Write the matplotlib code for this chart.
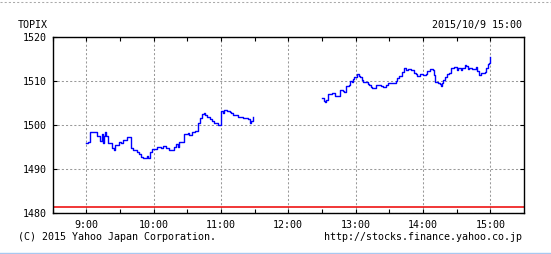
import matplotlib
matplotlib.use("Agg")
import matplotlib.pyplot as plt
from matplotlib.lines import Line2D

# TOPIX intraday 2015/10/9
am_times = ["09:00", "09:02", "09:03", "09:07", "09:10", "09:12", "09:14", "09:15", "09:16",
            "09:17", "09:18", "09:19", "09:21", "09:23", "09:25", "09:26", "09:29", "09:31",
            "09:33", "09:36", "09:39", "09:40", "09:42", "09:45", "09:47", "09:49", "09:51",
            "09:54", "09:55", "09:57", "09:59", "10:01", "10:03", "10:05", "10:07", "10:08",
            "10:11", "10:14", "10:16", "10:18", "10:20", "10:22", "10:23", "10:27", "10:31",
            "10:32", "10:34", "10:37", "10:40", "10:41", "10:43", "10:45", "10:46", "10:48",
            "10:50", "10:52", "10:54", "10:56", "10:57", "10:59", "11:00", "11:02", "11:03",
            "11:05", "11:08", "11:09", "11:11", "11:14", "11:15", "11:18", "11:20", "11:23",
            "11:24", "11:26", "11:27", "11:29"]
am_values = [1495.8, 1496.1, 1498.3, 1498.5, 1497.5, 1496.4, 1497.9, 1496.0, 1497.6,
             1498.5, 1497.4, 1495.8, 1495.9, 1494.7, 1494.3, 1495.5, 1496.2, 1495.9,
             1496.7, 1497.3, 1497.3, 1494.7, 1494.4, 1493.9, 1493.4, 1492.8, 1492.6,
             1492.9, 1492.4, 1493.9, 1494.5, 1494.5, 1495.1, 1495.1, 1494.7, 1495.3,
             1494.7, 1494.3, 1494.4, 1495.1, 1495.6, 1494.9, 1496.2, 1497.9, 1498.1,
             1497.7, 1498.5, 1498.6, 1500.4, 1501.5, 1502.6, 1502.8, 1502.2, 1501.9,
             1501.3, 1501.0, 1500.5, 1500.5, 1500.0, 1500.0, 1503.2, 1502.8, 1503.3,
             1503.2, 1502.9, 1502.8, 1502.3, 1502.3, 1501.9, 1501.9, 1501.5, 1501.5,
             1501.3, 1500.4, 1500.8, 1501.8]

pm_times = ["12:30", "12:32", "12:33", "12:34", "12:35", "12:38", "12:39", "12:41", "12:42",
            "12:45", "12:46", "12:48", "12:49", "12:50", "12:51", "12:54", "12:55", "12:57",
            "12:58", "12:59", "13:01", "13:03", "13:04", "13:06", "13:07", "13:09", "13:11",
            "13:12", "13:14", "13:15", "13:17", "13:18", "13:21", "13:23", "13:24", "13:27",
            "13:29", "13:36", "13:37", "13:39", "13:41", "13:43", "13:45", "13:47", "13:49",
            "13:51", "13:52", "13:54", "13:55", "13:57", "13:59", "14:00", "14:03", "14:04",
            "14:06", "14:09", "14:10", "14:11", "14:13", "14:15", "14:16", "14:17", "14:18",
            "14:20", "14:21", "14:23", "14:25", "14:28", "14:30", "14:31", "14:32", "14:34",
            "14:35", "14:37", "14:38", "14:40", "14:41", "14:44", "14:47", "14:48", "14:50",
            "14:52", "14:53", "14:55", "14:56", "14:58", "14:59", "15:00"]
pm_values = [1506.1, 1505.5, 1505.2, 1505.6, 1507.0, 1507.0, 1507.3, 1507.2, 1506.6,
             1506.6, 1508.0, 1508.0, 1507.8, 1507.6, 1508.9, 1509.1, 1510.0, 1509.8,
             1510.4, 1510.8, 1511.5, 1511.1, 1510.8, 1510.3, 1509.8, 1509.8, 1509.4,
             1509.1, 1508.7, 1508.3, 1508.5, 1509.1, 1509.2, 1508.8, 1508.7, 1509.1,
             1509.6, 1510.0, 1510.6, 1511.1, 1512.1, 1512.9, 1512.6, 1512.7, 1512.4,
             1512.4, 1511.9, 1511.5, 1511.2, 1511.5, 1511.6, 1511.3, 1511.5, 1512.3,
             1512.7, 1512.6, 1511.4, 1509.8, 1509.5, 1509.3, 1508.9, 1509.5, 1510.2,
             1511.0, 1511.6, 1511.9, 1512.9, 1513.1, 1512.5, 1513.0, 1512.9, 1512.4,
             1513.0, 1513.6, 1513.3, 1512.7, 1513.0, 1512.7, 1513.1, 1512.2, 1511.4,
             1511.8, 1511.9, 1512.1, 1512.9, 1513.9, 1514.2, 1515.4]

prev_close = 1481.3
hour_labels = ["9:00", "10:00", "11:00", "12:00", "13:00", "14:00", "15:00"]
y_ticks = [1480, 1490, 1500, 1510, 1520]


def to_hours(t):
    h, m = t.split(":")
    return int(h) + int(m) / 60


mono = "DejaVu Sans Mono"
fs = 7.2

fig = plt.figure(figsize=(5.51, 2.54), dpi=100)
ax = fig.add_axes([0.0953, 0.1614, 0.8557, 0.6929])

ax.plot([to_hours(t) for t in am_times], am_values, color="#0000ff", lw=1.0, drawstyle="steps-post")
ax.plot([to_hours(t) for t in pm_times], pm_values, color="#0000ff", lw=1.0, drawstyle="steps-post")
ax.axhline(prev_close, color="#ee0000", lw=1.1)

ax.set_xlim(8.5, 15.5)
ax.set_ylim(1480, 1520)
ax.set_xticks([to_hours(t) for t in hour_labels])
ax.set_xticklabels(hour_labels, family=mono, fontsize=fs)
ax.set_xticks([h + 0.5 for h in range(8, 15)], minor=True)
ax.set_yticks(y_ticks)
ax.set_yticklabels([str(v) for v in y_ticks], family=mono, fontsize=fs)
ax.tick_params(which="both", direction="in", top=True, right=True, length=3, width=0.8)
ax.tick_params(axis="x", pad=5)
ax.tick_params(axis="y", pad=4)
ax.grid(True, which="major", color="#999999", lw=0.75, linestyle=(0, (2, 2)))
for s in ax.spines.values():
    s.set_linewidth(1.0)

fig.text(0.033, 0.90, "TOPIX", family=mono, fontsize=fs, va="center", ha="left")
fig.text(0.948, 0.903, "2015/10/9 15:00", family=mono, fontsize=fs, va="center", ha="right")
fig.text(0.033, 0.068, "(C) 2015 Yahoo Japan Corporation.", family=mono, fontsize=fs, va="center", ha="left")
fig.text(0.948, 0.068, "http://stocks.finance.yahoo.co.jp", family=mono, fontsize=fs, va="center", ha="right")

# page separators above and below the chart
fig.add_artist(Line2D([0, 1], [0.993, 0.993], transform=fig.transFigure, color="#aaaaaa", lw=0.75, linestyle=(0, (2, 2))))
fig.add_artist(Line2D([0, 1], [0.004, 0.004], transform=fig.transFigure, color="#a8c8f0", lw=1.0))

fig.savefig("out.png", dpi=100)
